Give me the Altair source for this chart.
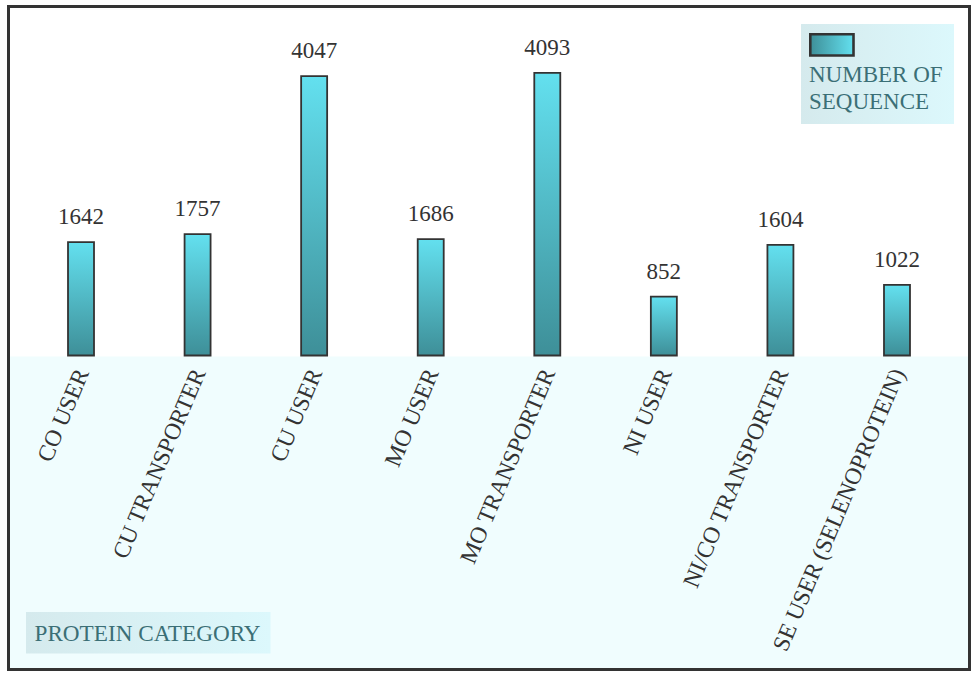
import altair as alt
import pandas as pd

categories = ["CO USER", "CU TRANSPORTER", "CU USER", "MO USER", "MO TRANSPORTER",
              "NI USER", "NI/CO TRANSPORTER", "SE USER (SELENOPROTEIN)"]
counts = [1642, 1757, 4047, 1686, 4093, 852, 1604, 1022]
legend_lines = ["NUMBER OF", "SEQUENCE"]
x_title = "PROTEIN CATEGORY"

FONT = "Liberation Serif"
DARK = "#333333"
TEAL_TXT = "#3b6f76"
CYAN = "#63e0ef"
TEAL = "#3e8f98"

W, H = 961, 663
YMIN, YMAX = -4549, 5056
BASE = 350

df = pd.DataFrame({"category": categories, "count": counts})
one = pd.DataFrame({"a": [0]})

xenc = alt.X("category:N", sort=categories,
             scale=alt.Scale(paddingInner=0, paddingOuter=0.122),
             axis=alt.Axis(title=None, orient="bottom", offset=-314, domain=False, ticks=False,
                           labelAngle=-67, labelFont=FONT, labelFontSize=23.5, labelColor=DARK,
                           labelPadding=14, labelOffset=2, labelLimit=500, labelOverlap=False,
                           zindex=2))
yenc = alt.Y("count:Q", scale=alt.Scale(domain=[YMIN, YMAX], nice=False, zero=False), axis=None)

lower_bg = alt.Chart(one).mark_rect(fill="#f0fdfe").encode(
    x=alt.value(1.5), x2=alt.value(W - 1.5), y=alt.value(BASE), y2=alt.value(H - 1.5))

bar_grad = alt.LinearGradient(gradient="linear",
                              stops=[alt.GradientStop(color=CYAN, offset=0),
                                     alt.GradientStop(color=TEAL, offset=1)],
                              x1=0, x2=0, y1=0, y2=1)

bars = alt.Chart(df).mark_bar(size=26, fill=bar_grad, stroke=DARK, strokeWidth=1.8).encode(
    x=xenc, y=yenc, y2=alt.datum(0))

labels = alt.Chart(df).mark_text(dy=-18, baseline="alphabetic", font=FONT, fontSize=23,
                                 color=DARK).encode(
    x=alt.X("category:N", sort=categories), y="count:Q", text="count:Q")

box_grad = alt.LinearGradient(gradient="linear",
                              stops=[alt.GradientStop(color="#d5eaed", offset=0),
                                     alt.GradientStop(color="#dcf8fc", offset=1)],
                              x1=0, x2=1, y1=0, y2=0)
sym_grad = alt.LinearGradient(gradient="linear",
                              stops=[alt.GradientStop(color=TEAL, offset=0),
                                     alt.GradientStop(color=CYAN, offset=1)],
                              x1=0, x2=1, y1=0, y2=0)

OX, OY = 8.5, 6.5

legend_box = alt.Chart(one).mark_rect(fill=box_grad).encode(
    x=alt.value(801 - OX), x2=alt.value(954 - OX), y=alt.value(24 - OY), y2=alt.value(124 - OY))
legend_sym = alt.Chart(one).mark_rect(fill=sym_grad, stroke=DARK, strokeWidth=2.6).encode(
    x=alt.value(810.3 - OX), x2=alt.value(853.5 - OX), y=alt.value(34.3 - OY), y2=alt.value(55.5 - OY))
legend_t1 = alt.Chart(one).mark_text(align="left", baseline="alphabetic", font=FONT, fontSize=23,
                                     color=TEAL_TXT, text=legend_lines[0]).encode(
    x=alt.value(809 - OX), y=alt.value(82 - OY))
legend_t2 = alt.Chart(one).mark_text(align="left", baseline="alphabetic", font=FONT, fontSize=23,
                                     color=TEAL_TXT, text=legend_lines[1]).encode(
    x=alt.value(809 - OX), y=alt.value(108.5 - OY))

title_box = alt.Chart(one).mark_rect(fill=box_grad).encode(
    x=alt.value(26 - OX), x2=alt.value(270.5 - OX), y=alt.value(612 - OY), y2=alt.value(653.5 - OY))
title_txt = alt.Chart(one).mark_text(align="left", baseline="alphabetic", font=FONT, fontSize=23.2,
                                     color=TEAL_TXT, text=x_title).encode(
    x=alt.value(34.5 - OX), y=alt.value(641 - OY))

chart = alt.layer(lower_bg, bars, labels, legend_box, legend_sym, legend_t1, legend_t2,
                  title_box, title_txt).properties(
    width=W, height=H,
    autosize=alt.AutoSizeParams(type="none"),
    padding={"left": OX, "top": OY, "right": 978 - OX - W, "bottom": 675 - OY - H},
    background="white",
).configure_view(stroke=DARK, strokeWidth=3, fill="white")

chart.save("out.html", embed_options={"renderer": "svg", "actions": False})
